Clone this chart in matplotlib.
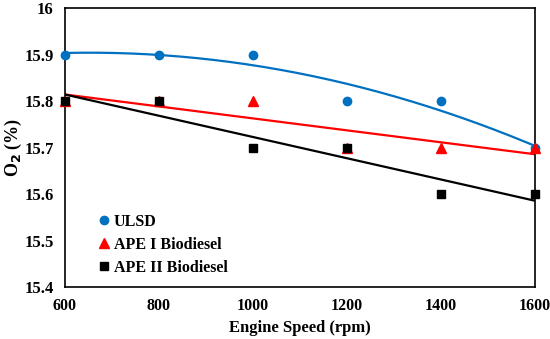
import matplotlib
matplotlib.use('Agg')
import matplotlib.pyplot as plt
import numpy as np

plt.rcParams['font.family'] = 'Liberation Serif'
plt.rcParams['font.weight'] = 'bold'

speed = [600, 800, 1000, 1200, 1400, 1600]
ulsd = [15.9, 15.9, 15.9, 15.8, 15.8, 15.7]
ape1 = [15.8, 15.8, 15.8, 15.7, 15.7, 15.7]
ape2 = [15.8, 15.8, 15.7, 15.7, 15.6, 15.6]

fig = plt.figure(figsize=(5.5, 3.39), dpi=100)
ax = fig.add_axes([0.118, 0.153, 0.855, 0.823])

blue = '#0070c0'
xs = np.linspace(600, 1600, 200)
# trendlines: 2nd order for ULSD, linear for the biodiesels
ax.plot(xs, np.polyval(np.polyfit(speed, ulsd, 2), xs), color=blue, lw=1.6, zorder=2)
ax.plot(xs, np.polyval(np.polyfit(speed, ape1, 1), xs), color='#ff0000', lw=1.6, zorder=2)
ax.plot(xs, np.polyval(np.polyfit(speed, ape2, 1), xs), color='black', lw=1.6, zorder=2)

ax.plot(speed, ulsd, 'o', color=blue, ms=6, label='ULSD', clip_on=False, zorder=3)
ax.plot(speed, ape1, '^', color='#ff0000', ms=7, label='APE I Biodiesel', clip_on=False, zorder=3)
ax.plot(speed, ape2, 's', color='black', ms=6, label='APE II Biodiesel', clip_on=False, zorder=4)

ax.set_xlim(600, 1600)
ax.set_ylim(15.4, 16.0)
ax.set_xticks(speed)
ax.set_yticks([15.4, 15.5, 15.6, 15.7, 15.8, 15.9, 16.0])
ax.set_yticklabels(['15.4', '15.5', '15.6', '15.7', '15.8', '15.9', '16'])
ax.tick_params(length=0, labelsize=12, pad=8)
ax.tick_params(axis='x', labelsize=11.5)
for s in ax.spines.values():
    s.set_linewidth(1.2)
    s.set_zorder(2.5)

ax.set_xlabel('Engine Speed (rpm)', fontsize=12, fontweight='bold')
ax.set_ylabel('O$_\\mathbf{2}$ (%)', fontsize=13, fontweight='bold')
ax.yaxis.set_label_coords(-0.086, 0.5)

ax.legend(loc='lower left', bbox_to_anchor=(0.05, 0.0), frameon=False, fontsize=11.5,
          handlelength=0.6, handletextpad=0.3, labelspacing=0.45, borderaxespad=0.3)

fig.savefig('out.png', dpi=100)
